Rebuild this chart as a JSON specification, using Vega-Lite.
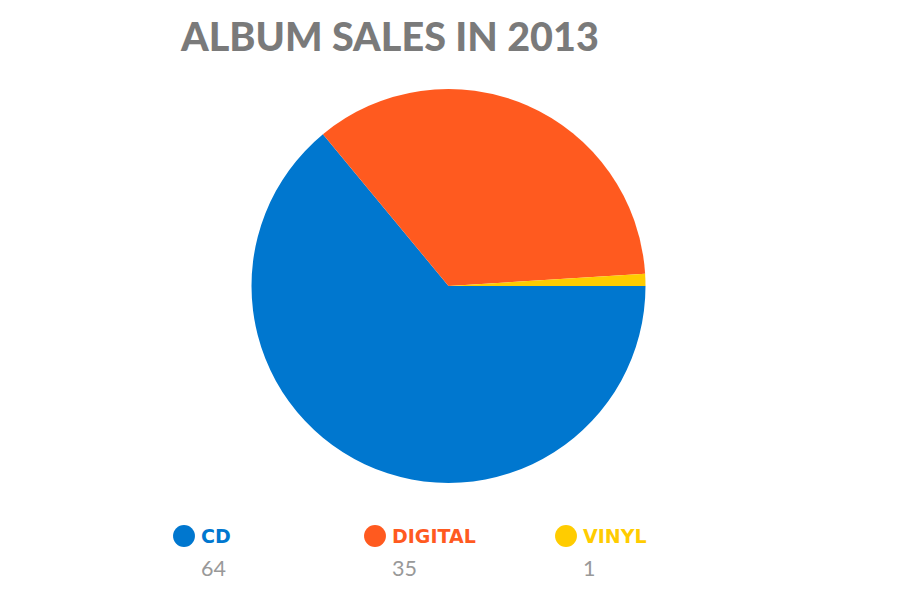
{
  "$schema": "https://vega.github.io/schema/vega-lite/v6.json",
  "padding": {"left": 173, "top": 18, "right": 5, "bottom": 5},
  "background": "white",
  "title": {
    "text": "ALBUM SALES IN 2013",
    "anchor": "start",
    "frame": "group",
    "dx": -3,
    "offset": 30,
    "font": "Lato",
    "fontWeight": 900,
    "fontSize": 39.5,
    "color": "#7a7a7a"
  },
  "data": {
    "values": [
      {"category": "CD", "share": 64},
      {"category": "DIGITAL", "share": 35},
      {"category": "VINYL", "share": 1}
    ]
  },
  "spacing": 33,
  "config": {"view": {"stroke": null}},
  "vconcat": [
    {
      "width": 529,
      "height": 394,
      "mark": {"type": "arc"},
      "encoding": {
        "theta": {"field": "share", "type": "quantitative", "stack": true, "scale": {"range": [1.5708, 7.854]}},
        "order": {"field": "category", "sort": "ascending"},
        "color": {
          "field": "category", "type": "nominal", "legend": null,
          "scale": {"domain": ["CD", "DIGITAL", "VINYL"], "range": ["#0077cf", "#ff5a1f", "#ffcc00"]}
        }
      }
    },
    {
      "width": 573,
      "height": 40,
      "encoding": {
        "x": {"field": "category", "type": "nominal", "axis": null, "bandPosition": 0,
          "scale": {"type": "band", "paddingInner": 0, "paddingOuter": 0, "domain": ["CD", "DIGITAL", "VINYL"]}},
        "color": {
          "field": "category", "type": "nominal", "legend": null,
          "scale": {"domain": ["CD", "DIGITAL", "VINYL"], "range": ["#0077cf", "#ff5a1f", "#ffcc00"]}
        }
      },
      "layer": [
        {"mark": {"type": "point", "filled": true, "size": 480, "opacity": 1}},
        {"mark": {"type": "text", "align": "left", "baseline": "middle", "dx": 17, "dy": 1, "font": "DejaVu Sans", "fontWeight": "bold", "fontSize": 19},
          "encoding": {"text": {"field": "category"}}},
        {"mark": {"type": "text", "align": "left", "baseline": "alphabetic", "dx": 17, "dy": 40, "font": "Lato", "fontSize": 21.5, "color": "#999999"},
          "encoding": {"text": {"field": "share"}, "color": {"value": "#999999"}}}
      ]
    }
  ]
}
